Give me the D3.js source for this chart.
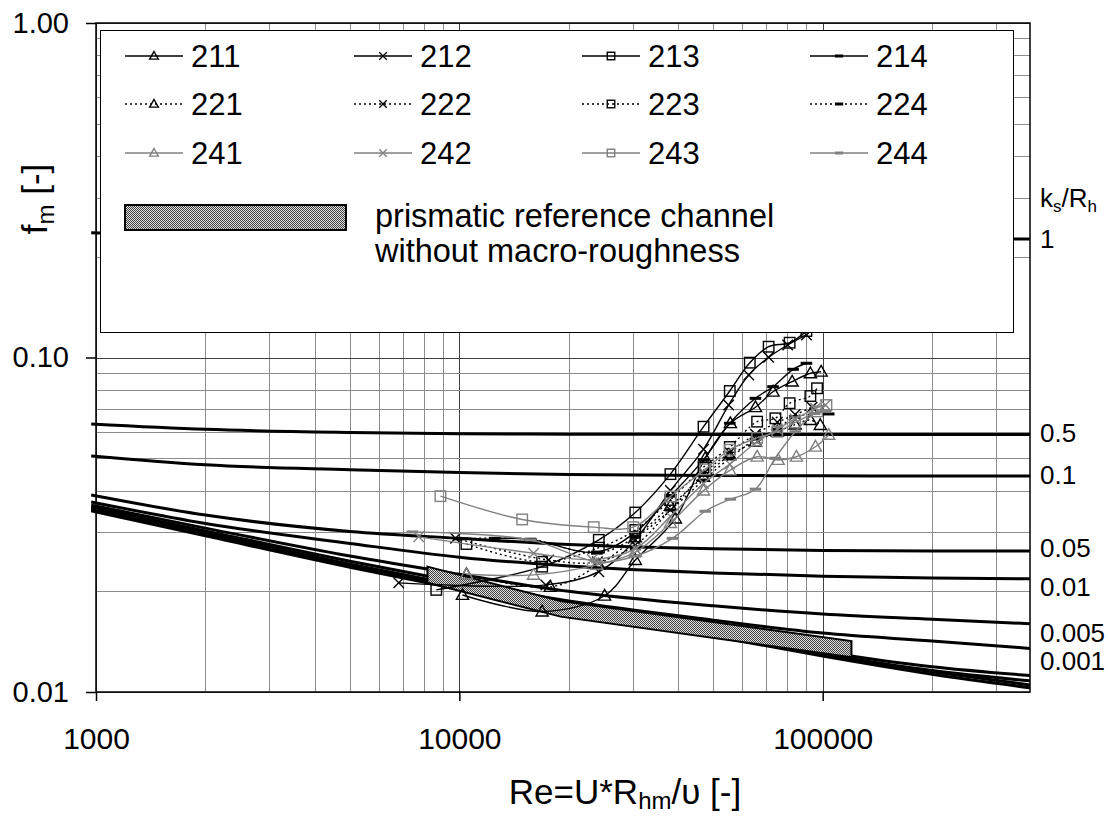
<!DOCTYPE html>
<html>
<head>
<meta charset="utf-8">
<script src="https://cdnjs.cloudflare.com/ajax/libs/d3/7.8.5/d3.min.js"></script>
<style>
  body { margin: 0; background: #fff; }
  svg { display: block; font-family: 'Liberation Sans', Arial, sans-serif; }
</style>
</head>
<body>
<svg></svg>
<script>
// Re values where the ks/Rh reference curves were read
var reCurve = [970, 2000, 5000, 10000, 20000, 50000, 100000, 200000, 372000];

// ks/Rh reference curves (f_m values)
var curveKs1 = [0.236, 0.232, 0.229, 0.228, 0.227, 0.226, 0.226, 0.226, 0.226];
var curveKs05 = [0.0633, 0.0610, 0.0597, 0.0592, 0.0590, 0.0589, 0.0589, 0.0589, 0.0589];
var curveKs01 = [0.0508, 0.0478, 0.0462, 0.0453, 0.0447, 0.0444, 0.0443, 0.0442, 0.0442];
var curveKs005 = [0.0388, 0.0338, 0.0302, 0.0288, 0.0276, 0.0268, 0.0265, 0.0264, 0.0264];
var curveKs001 = [0.0370, 0.0319, 0.0278, 0.0253, 0.0238, 0.0227, 0.0222, 0.0219, 0.0218];
var curveKs0005 = [0.0362, 0.0309, 0.0255, 0.0225, 0.0200, 0.0181, 0.0171, 0.0165, 0.0160];
var curveKs0001 = [0.0357, 0.0303, 0.0246, 0.0213, 0.0187, 0.0164, 0.0150, 0.0142, 0.0135];
var curveSmoothA = [0.0355, 0.0299, 0.0241, 0.0208, 0.0178, 0.0150, 0.0132, 0.0119, 0.0112];
var curveSmoothB = [0.0352, 0.0297, 0.0240, 0.0206, 0.0177, 0.0149, 0.0130, 0.0116, 0.0108];
var curveSmoothC = [0.0350, 0.0295, 0.0238, 0.0205, 0.0176, 0.0148, 0.0129, 0.0115, 0.0105];
var curveSmoothD = [0.0348, 0.0293, 0.0236, 0.0203, 0.0175, 0.0147, 0.0128, 0.0113, 0.0103];
var curveLabels = ['1', '0.5', '0.1', '0.05', '0.01', '0.005', '0.001', '', '', '', ''];

// prismatic reference channel band
var reBand = [8170, 19000, 120000];
var fBandTop = [0.0237, 0.0187, 0.0142];
var fBandBottom = [0.0212, 0.0168, 0.0127];

// measured series
var re211 = [10200, 16900, 25100, 30500, 39300, 47500, 55700, 65300, 73000, 82400, 92500, 99000];
var f211 = [0.0195, 0.0174, 0.0194, 0.0248, 0.0330, 0.0500, 0.0636, 0.0710, 0.0790, 0.0847, 0.0897, 0.0907];
var re212 = [6810, 17300, 24200, 30500, 38100, 47000, 55100, 62600, 71000, 80100, 90200];
var f212 = [0.0212, 0.0209, 0.0229, 0.0285, 0.0400, 0.0532, 0.0721, 0.0887, 0.1001, 0.1090, 0.1168];
var re213 = [8640, 16900, 24200, 30500, 38100, 47000, 55500, 63000, 71000, 81100, 90200];
var f213 = [0.0202, 0.0237, 0.0285, 0.0344, 0.0448, 0.0621, 0.0794, 0.0965, 0.1077, 0.1107, 0.1200];
var re214 = [12500, 15700, 23900, 30500, 38100, 47000, 55500, 65300, 73000, 82900, 90200];
var f214 = [0.0288, 0.0286, 0.0262, 0.0300, 0.0385, 0.0495, 0.0636, 0.0755, 0.0818, 0.0922, 0.0961];
var re221 = [10460, 17800, 24200, 30500, 38100, 47000, 55500, 65300, 75000, 84000, 92500, 98500];
var f221 = [0.0225, 0.0206, 0.0240, 0.0290, 0.0360, 0.0440, 0.0510, 0.0560, 0.0600, 0.0630, 0.0650, 0.0628];
var re222 = [9760, 17600, 24000, 30500, 38100, 47000, 55500, 65300, 75000, 84000, 93500];
var f222 = [0.0288, 0.0248, 0.0245, 0.0275, 0.0350, 0.0450, 0.0520, 0.0590, 0.0640, 0.0675, 0.0710];
var re223 = [10460, 16900, 24200, 30500, 38100, 47000, 55500, 66000, 74100, 81100, 92500, 96500];
var f223 = [0.0277, 0.0245, 0.0270, 0.0305, 0.0375, 0.0470, 0.0540, 0.0643, 0.0658, 0.0730, 0.0767, 0.0809];
var re224 = [10000, 15700, 23900, 30500, 38100, 47000, 55500, 65300, 75000, 83750, 103900];
var f224 = [0.0287, 0.0286, 0.0260, 0.0290, 0.0350, 0.0430, 0.0500, 0.0570, 0.0610, 0.0665, 0.0678];
var re241 = [10460, 16000, 23900, 30500, 38100, 47000, 55500, 66000, 75400, 84650, 95500, 103900];
var f241 = [0.0225, 0.0224, 0.0240, 0.0262, 0.0320, 0.0400, 0.0460, 0.0505, 0.0494, 0.0505, 0.0541, 0.0587];
var re242 = [7730, 16020, 23210, 30500, 38100, 47000, 55500, 66000, 75000, 84000, 95500, 101700];
var f242 = [0.0291, 0.0260, 0.0249, 0.0268, 0.0335, 0.0420, 0.0480, 0.0560, 0.0610, 0.0655, 0.0705, 0.0721];
var re243 = [8870, 14890, 23440, 30080, 38100, 47500, 55500, 66000, 75000, 84000, 96500, 102400];
var f243 = [0.0385, 0.0328, 0.0311, 0.0311, 0.0384, 0.0463, 0.0530, 0.0575, 0.0600, 0.0640, 0.0690, 0.0721];
var re244 = [7420, 15700, 23900, 30500, 38600, 47500, 55700, 65300, 74000, 84000, 95000, 102000];
var f244 = [0.0301, 0.0285, 0.0245, 0.0255, 0.0288, 0.0347, 0.0377, 0.0404, 0.0500, 0.0600, 0.0680, 0.0690];

var seriesNames = ['211', '212', '213', '214', '221', '222', '223', '224', '241', '242', '243', '244'];

// Dimensions
var width = 1108;
var height = 817;
var plotLeft = 96, plotRight = 1030, plotTop = 23, plotBottom = 692;

var svg = d3.select('svg')
  .attr('width', width)
  .attr('height', height);

var x = d3.scaleLog().domain([1000, 372000]).range([plotLeft, plotRight]);
var y = d3.scaleLog().domain([0.01, 1]).range([plotBottom, plotTop]);

// hatch pattern for the reference band
var defs = svg.append('defs');
var pat = defs.append('pattern')
  .attr('id', 'hatch')
  .attr('patternUnits', 'userSpaceOnUse')
  .attr('width', 2).attr('height', 2);
pat.append('rect').attr('width', 2).attr('height', 2).attr('fill', '#e0e0e0');
pat.append('rect').attr('width', 1).attr('height', 1).attr('fill', '#404040');
pat.append('rect').attr('x', 1).attr('y', 1).attr('width', 1).attr('height', 1).attr('fill', '#404040');

defs.append('clipPath').attr('id', 'plotclip')
  .append('rect')
  .attr('x', plotLeft - 6).attr('y', plotTop)
  .attr('width', plotRight - plotLeft + 6).attr('height', plotBottom - plotTop);

// Gridlines
var xGrid = [], yGrid = [];
[1000, 10000, 100000].forEach(function (base) {
  for (var d = 1; d <= 9; d++) {
    if (base * d <= 372000) xGrid.push(base * d);
  }
});
[0.01, 0.1].forEach(function (base) {
  for (var d = 1; d <= 9; d++) yGrid.push(+(base * d).toFixed(3));
});
yGrid.push(1);

function isMajor (v) {
  var l = Math.log10(v);
  return Math.abs(l - Math.round(l)) < 1e-6;
}

svg.append('g').selectAll('line')
  .data(xGrid)
  .enter().append('line')
    .attr('x1', function (d) { return Math.round(x(d)) + 0.5; })
    .attr('x2', function (d) { return Math.round(x(d)) + 0.5; })
    .attr('y1', plotTop)
    .attr('y2', plotBottom)
    .attr('stroke', function (d) { return isMajor(d) ? '#404040' : '#8c8c8c'; })
    .attr('stroke-width', 1);

svg.append('g').selectAll('line')
  .data(yGrid)
  .enter().append('line')
    .attr('x1', plotLeft)
    .attr('x2', plotRight)
    .attr('y1', function (d) { return Math.round(y(d)) + 0.5; })
    .attr('y2', function (d) { return Math.round(y(d)) + 0.5; })
    .attr('stroke', function (d) { return isMajor(d) ? '#404040' : '#8c8c8c'; })
    .attr('stroke-width', 1);

var plot = svg.append('g').attr('clip-path', 'url(#plotclip)');

// ks/Rh curves
var curves = [curveKs1, curveKs05, curveKs01, curveKs005, curveKs001, curveKs0005, curveKs0001,
  curveSmoothA, curveSmoothB, curveSmoothC, curveSmoothD];

var curveLine = d3.line()
  .x(function (d, i) { return x(reCurve[i]); })
  .y(function (d) { return y(d); })
  .curve(d3.curveMonotoneX);

plot.selectAll('.ks')
  .data(curves)
  .enter().append('path')
    .attr('class', 'ks')
    .attr('d', curveLine)
    .attr('fill', 'none')
    .attr('stroke', '#000')
    .attr('stroke-width', 3);

// Reference band
var bandArea = d3.area()
  .x(function (d, i) { return x(reBand[i]); })
  .y0(function (d, i) { return y(fBandBottom[i]); })
  .y1(function (d) { return y(d); });

plot.append('path')
  .datum(fBandTop)
  .attr('d', bandArea)
  .attr('fill', 'url(#hatch)')
  .attr('stroke', '#000')
  .attr('stroke-width', 2);

// Measured series
var seriesRe = [re211, re212, re213, re214, re221, re222, re223, re224, re241, re242, re243, re244];
var seriesF = [f211, f212, f213, f214, f221, f222, f223, f224, f241, f242, f243, f244];
var markerTypes = ['tri', 'cross', 'square', 'dash'];

function seriesColor (i) { return i >= 8 ? '#808080' : '#000'; }
function seriesDash (i) { return (i >= 4 && i < 8) ? '2,3' : null; }

function drawMarker (g, type, cx, cy, color, s) {
  if (type === 'tri') {
    g.append('path')
      .attr('d', 'M' + cx + ',' + (cy - s * 0.6) + 'L' + (cx + s * 0.58) + ',' + (cy + s * 0.42) +
        'L' + (cx - s * 0.58) + ',' + (cy + s * 0.42) + 'Z')
      .attr('fill', 'none').attr('stroke', color).attr('stroke-width', 1.4);
  } else if (type === 'square') {
    g.append('rect')
      .attr('x', cx - s / 2).attr('y', cy - s / 2)
      .attr('width', s).attr('height', s)
      .attr('fill', 'none').attr('stroke', color).attr('stroke-width', 1.4);
  } else if (type === 'cross') {
    var h = s * 0.5;
    g.append('path')
      .attr('d', 'M' + (cx - h) + ',' + (cy - h) + 'L' + (cx + h) + ',' + (cy + h) +
        'M' + (cx - h) + ',' + (cy + h) + 'L' + (cx + h) + ',' + (cy - h))
      .attr('stroke', color).attr('stroke-width', 1.4);
  } else {
    g.append('rect')
      .attr('x', cx - s * 0.55).attr('y', cy - 1.5)
      .attr('width', s * 1.1).attr('height', 3)
      .attr('fill', color);
  }
}

var seriesLine = d3.line().curve(d3.curveCatmullRom.alpha(0.5));

seriesF.forEach(function (fs, i) {
  var pts = fs.map(function (f, j) { return [x(seriesRe[i][j]), y(f)]; });
  var g = plot.append('g');
  g.append('path')
    .attr('d', seriesLine(pts))
    .attr('fill', 'none')
    .attr('stroke', seriesColor(i))
    .attr('stroke-width', 1.4)
    .attr('stroke-dasharray', seriesDash(i));
  pts.forEach(function (p) {
    drawMarker(g, markerTypes[i % 4], p[0], p[1], seriesColor(i), 10.5);
  });
});

// Plot frame
svg.append('rect')
  .attr('x', plotLeft).attr('y', plotTop)
  .attr('width', plotRight - plotLeft).attr('height', plotBottom - plotTop)
  .attr('fill', 'none')
  .attr('stroke', '#000')
  .attr('stroke-width', 1.5);

// Axes
var yAxis = d3.axisLeft(y)
  .tickValues([0.01, 0.1, 1])
  .tickFormat(d3.format('.2f'))
  .tickSizeInner(10)
  .tickSizeOuter(0)
  .tickPadding(17);

svg.append('g')
  .attr('transform', 'translate(' + plotLeft + ',0)')
  .call(yAxis)
  .call(function (g) { g.select('.domain').remove(); })
  .call(function (g) {
    g.selectAll('line').attr('stroke', '#000').attr('stroke-width', 1.5);
    g.selectAll('text').attr('font-size', 29).attr('fill', '#000')
      .attr('font-family', 'Liberation Sans, Arial, sans-serif');
  });

var xAxis = d3.axisBottom(x)
  .tickValues([1000, 10000, 100000])
  .tickFormat(d3.format('d'))
  .tickSizeInner(9)
  .tickSizeOuter(0)
  .tickPadding(27);

svg.append('g')
  .attr('transform', 'translate(0,' + plotBottom + ')')
  .call(xAxis)
  .call(function (g) { g.select('.domain').remove(); })
  .call(function (g) {
    g.selectAll('line').attr('stroke', '#000').attr('stroke-width', 1.5);
    g.selectAll('text').attr('font-size', 30).attr('fill', '#000')
      .attr('font-family', 'Liberation Sans, Arial, sans-serif');
  });

// Axis titles
var xTitle = svg.append('text')
  .attr('x', 625).attr('y', 804)
  .attr('text-anchor', 'middle')
  .attr('font-size', 35);
xTitle.append('tspan').text('Re=U*R');
xTitle.append('tspan').attr('font-size', 24).attr('dy', 5).text('hm');
xTitle.append('tspan').attr('dy', -5).text('/\u03c5 [-]');

var yTitle = svg.append('text')
  .attr('transform', 'translate(47,199)rotate(-90)')
  .attr('text-anchor', 'middle')
  .attr('font-size', 35);
yTitle.append('tspan').text('f');
yTitle.append('tspan').attr('font-size', 24).attr('dy', 7).text('m');
yTitle.append('tspan').attr('dy', -7).text(' [-]');

// Legend
var legend = svg.append('g');
legend.append('rect')
  .attr('x', 100.5).attr('y', 30.5)
  .attr('width', 913).attr('height', 302)
  .attr('fill', '#fff')
  .attr('stroke', '#000')
  .attr('stroke-width', 1);

var legendCols = [125, 354, 582, 810];
var legendRows = [56, 104, 153];

seriesNames.forEach(function (name, i) {
  var lx = legendCols[i % 4];
  var ly = legendRows[Math.floor(i / 4)];
  legend.append('line')
    .attr('x1', lx).attr('x2', lx + 58)
    .attr('y1', ly).attr('y2', ly)
    .attr('stroke', seriesColor(i))
    .attr('stroke-width', 1.4)
    .attr('stroke-dasharray', seriesDash(i));
  drawMarker(legend, markerTypes[i % 4], lx + 29, ly, seriesColor(i), 7.5);
  legend.append('text')
    .attr('x', lx + 66).attr('y', ly + 11)
    .attr('font-size', 31)
    .text(name);
});

legend.append('rect')
  .attr('x', 125).attr('y', 205)
  .attr('width', 221).attr('height', 25)
  .attr('fill', 'url(#hatch)')
  .attr('stroke', '#000')
  .attr('stroke-width', 2);
legend.append('text')
  .attr('x', 375).attr('y', 227)
  .attr('font-size', 32.5)
  .text('prismatic reference channel');
legend.append('text')
  .attr('x', 375).attr('y', 262)
  .attr('font-size', 32.5)
  .text('without macro-roughness');

// ks/Rh labels on the right
var labelDy = [0, -1, -1, -3, 8, 9, 12, 0, 0, 0, 0];
svg.append('g').selectAll('text')
  .data(curves)
  .enter().append('text')
    .attr('x', 1040)
    .attr('y', function (d, i) { return y(d[d.length - 1]) + labelDy[i]; })
    .attr('dy', '0.35em')
    .attr('font-size', 26)
    .text(function (d, i) { return curveLabels[i]; });

var ksTitle = svg.append('text')
  .attr('x', 1040).attr('y', 207)
  .attr('font-size', 26);
ksTitle.append('tspan').text('k');
ksTitle.append('tspan').attr('font-size', 17).attr('dy', 5).text('s');
ksTitle.append('tspan').attr('dy', -5).text('/R');
ksTitle.append('tspan').attr('font-size', 17).attr('dy', 5).text('h');
</script>
</body>
</html>
